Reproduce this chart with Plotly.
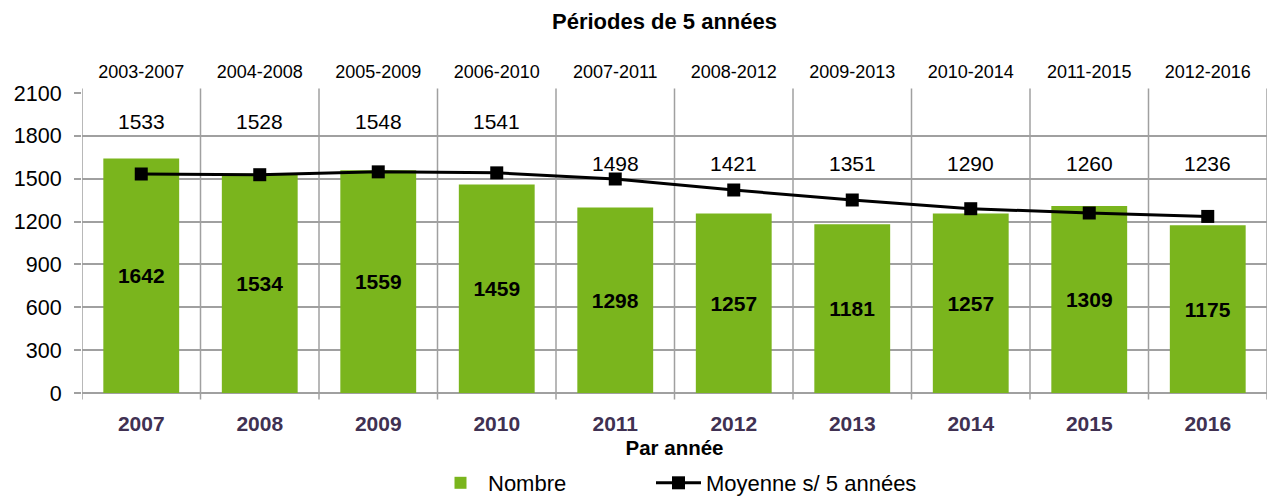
import plotly.graph_objects as go

years = ["2007", "2008", "2009", "2010", "2011", "2012", "2013", "2014", "2015", "2016"]
periods = ["2003-2007", "2004-2008", "2005-2009", "2006-2010", "2007-2011",
           "2008-2012", "2009-2013", "2010-2014", "2011-2015", "2012-2016"]
nombre = [1642, 1534, 1559, 1459, 1298, 1257, 1181, 1257, 1309, 1175]
moyenne = [1533, 1528, 1548, 1541, 1498, 1421, 1351, 1290, 1260, 1236]
y_ticks = [0, 300, 600, 900, 1200, 1500, 1800, 2100]

FONT = "Liberation Sans, Arial, sans-serif"
GRID = "#A0A0A0"
GREEN = "#7AB51D"

xs = list(range(len(years)))

fig = go.Figure()
fig.add_trace(go.Bar(
    x=xs, y=nombre, name="Nombre", marker=dict(color=GREEN, line=dict(width=0)),
    width=0.64, texttemplate="<b>%{y}</b>", textposition="inside",
    insidetextanchor="middle", textangle=0,
    textfont=dict(family=FONT, size=21, color="black"), legend="legend",
))
fig.add_trace(go.Scatter(
    x=xs, y=moyenne, name="Moyenne s/ 5 années", mode="lines+markers",
    line=dict(color="black", width=3),
    marker=dict(symbol="square", size=13, color="black"), legend="legend2",
))
# invisible trace on top axis for period labels
fig.add_trace(go.Scatter(x=xs, y=moyenne, xaxis="x2", mode="markers",
                         marker=dict(opacity=0), showlegend=False, hoverinfo="skip"))

# vertical category separators
shapes = []
for k in range(len(years) + 1):
    shapes.append(dict(type="line", xref="x", yref="paper", x0=k - 0.5, x1=k - 0.5,
                       y0=-0.022, y1=1.015, line=dict(color=GRID, width=1.5), layer="below"))

annotations = []
for i, v in enumerate(moyenne):
    ly = 1900 if i < 4 else 1610
    annotations.append(dict(x=i, y=ly, xref="x", yref="y", text=str(v), showarrow=False,
                            font=dict(family=FONT, size=21, color="black")))

legend_common = dict(orientation="h", xref="container", yref="container",
                     xanchor="left", y=1 - 483 / 497, yanchor="middle",
                     font=dict(family=FONT, size=22, color="black"), itemwidth=45,
                     bgcolor="rgba(0,0,0,0)")

fig.update_layout(
    width=1269, height=497,
    margin=dict(l=82, r=2, t=93, b=104, autoexpand=False),
    paper_bgcolor="white", plot_bgcolor="white",
    font=dict(family=FONT, color="black"),
    title=dict(text="<b>Périodes de 5 années</b>", x=664.5 / 1269, xanchor="center",
               y=1 - 21 / 497, yanchor="middle", xref="container", yref="container",
               font=dict(family=FONT, size=22, color="black")),
    bargap=0.36,
    xaxis=dict(range=[-0.5, len(years) - 0.5], tickvals=xs,
               ticktext=["<b>%s</b>" % y for y in years],
               tickfont=dict(family=FONT, size=21, color="#403152"),
               showgrid=False, zeroline=False, showline=False, ticks="",
               ticklabelstandoff=16,
               title=dict(text="<b>Par année</b>", font=dict(family=FONT, size=20.5, color="black"),
                          standoff=6)),
    xaxis2=dict(range=[-0.5, len(years) - 0.5], overlaying="x", side="top",
                tickvals=xs, ticktext=periods, showgrid=False, zeroline=False,
                showline=False, ticks="", ticklabelstandoff=10,
                tickfont=dict(family=FONT, size=18, color="black")),
    yaxis=dict(range=[0, 2100], tickvals=y_ticks, showgrid=True, gridcolor=GRID, gridwidth=1.5,
               zeroline=True, zerolinecolor=GRID, zerolinewidth=1.5,
               ticks="outside", ticklen=7, tickcolor=GRID, tickwidth=1.5,
               tickfont=dict(family=FONT, size=21.5, color="black"), ticklabelstandoff=8),
    legend=dict(x=433 / 1269, **legend_common),
    legend2=dict(x=651 / 1269, **legend_common),
    shapes=shapes,
    annotations=annotations,
    showlegend=True,
)

fig.write_html("out.html", config={"displayModeBar": False},
               post_script="document.body.style.margin='0';")
